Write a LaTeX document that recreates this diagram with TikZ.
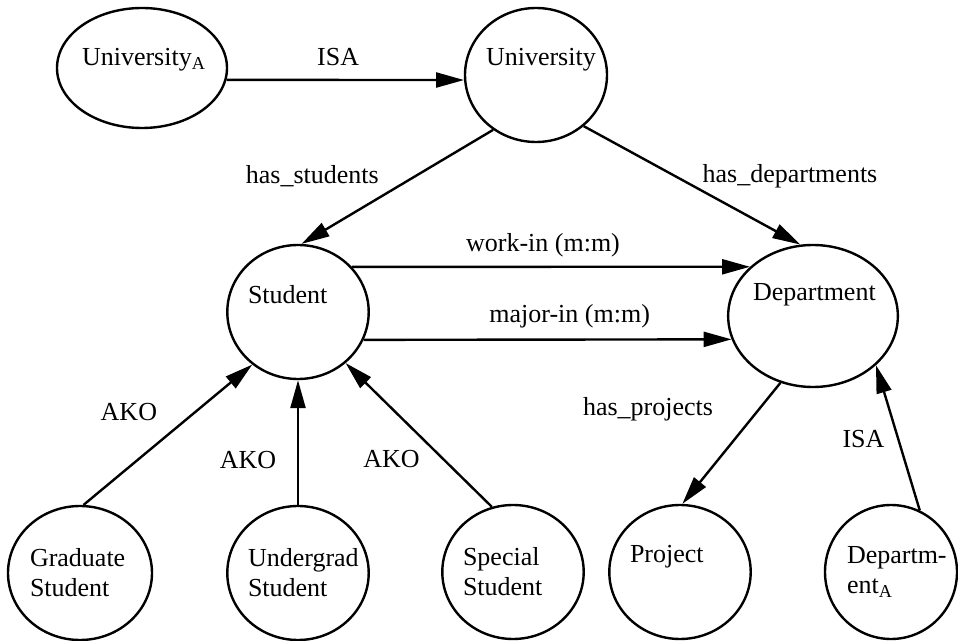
\documentclass[tikz,border=0pt]{standalone}
\usepackage{fontspec}
\setmainfont{Liberation Serif}
\usetikzlibrary{shapes.geometric,arrows.meta}
\tikzset{
  ent/.style={draw, ellipse, line width=1.2pt, inner sep=0pt,
    minimum width=70pt, minimum height=67pt, text width=50pt, align=left},
  egysor/.style={text depth=18pt},
  nyil/.style={line width=1.2pt, -{Triangle[length=14pt,width=7.5pt]}}
}
\begin{document}
\begin{tikzpicture}[x=0.5pt, y=-0.5pt, font=\fontsize{13}{15}\selectfont]
    \useasboundingbox (0,0) rectangle (958,641);

    % Felső sor
    \node[ent, egysor, minimum width=85pt, minimum height=60pt, text width=60pt, text depth=11pt] (uA) at (142,68) {University\textsubscript{A}};
    \node[ent, egysor, minimum width=71pt] (u) at (536,75) {University};

    % Középső sor
    \node[ent, egysor, minimum width=70.5pt] (s) at (298,312) {Student};
    \node[ent, egysor, minimum width=84.5pt, minimum height=71pt, text width=60pt, text depth=24pt] (d) at (813,316) {Department};

    % Alsó sor
    \node[ent, minimum width=72pt] (g) at (80,573) {Graduate\\Student};
    \node[ent] (ug) at (298,573) {\mbox{Undergrad}\\Student};
    \node[ent] (sp) at (513,572) {Special\\Student};
    \node[ent, egysor] (p) at (680,572) {Project};
    \node[ent, minimum width=66pt, text width=44pt] (dA) at (891,572) {\mbox{Departm-}\\ent\textsubscript{A}};

    % Élek
    \draw[nyil] (uA.352) -- node[above=3pt, pos=0.47] {ISA} (u.184);
    \draw[nyil] (u.232) -- node[left=14pt, pos=0.41] {has\_students} (s.87);
    \draw[nyil] (u.313) -- node[right=10pt, pos=0.42] {has\_departments} (d.100);
    \draw[nyil] (s.40) -- node[above=1pt, pos=0.48] {work-in (m:m)} (d.142);
    \draw[nyil] (s.337) -- node[above=2pt, pos=0.56] {major-in (m:m)} (d.196);
    \draw[nyil] (g.87) -- node[left=15pt, pos=0.66] {AKO} (s.229);
    \draw[nyil] (ug.north) -- node[left=7pt, pos=0.36] {AKO} (s.south);
    \draw[nyil] (sp.108) -- node[left=8pt, pos=0.33] {AKO} (s.313);
    \draw[nyil] (d.244) -- node[left=19pt, pos=0.22] {has\_projects} (p.88);
    \draw[nyil] (dA.65) -- node[left=3pt, pos=0.49] {ISA} (d.322);
\end{tikzpicture}
\end{document}
